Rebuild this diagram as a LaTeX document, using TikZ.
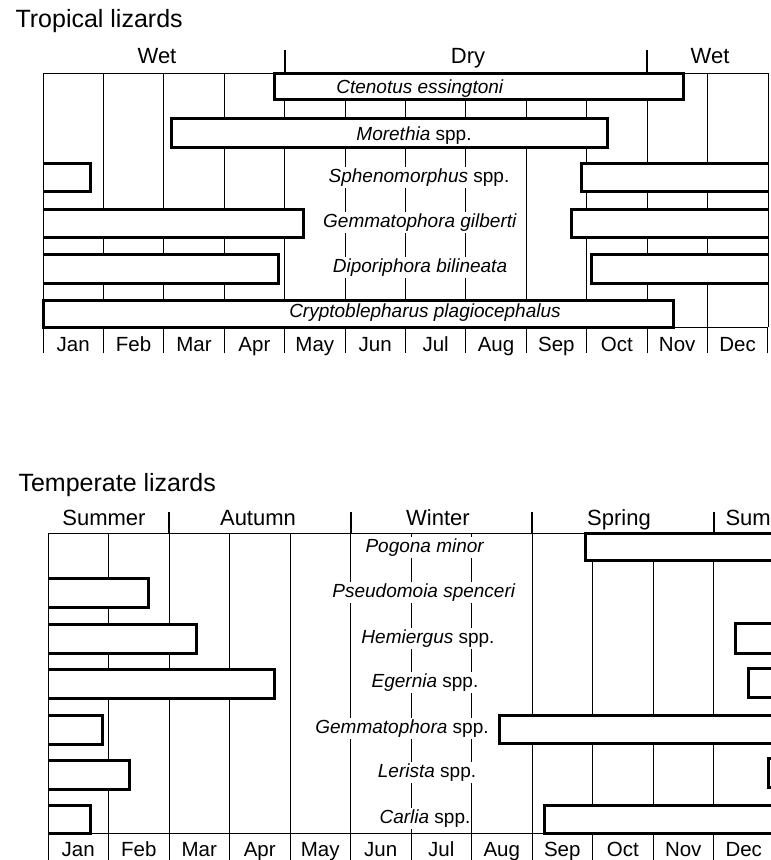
\documentclass[tikz,border=0pt]{standalone}
\usepackage{fontspec}
\setmainfont{Liberation Sans}
\tikzset{every picture/.style={line join=miter}}
\tikzset{grid lines/.style={line width=0.8pt}}
\tikzset{season tick/.style={line width=2pt}}
\tikzset{bar/.style={fill=white,line width=3pt}}
\tikzset{species label/.style={fill=white,inner sep=1pt,text height=14pt,text depth=4.5pt,anchor=base,font=\fontsize{19}{22}\selectfont}}
\tikzset{in bar/.style={fill=none}}
\tikzset{month label/.style={anchor=base,font=\fontsize{20.5}{24}\selectfont}}
\tikzset{season label/.style={anchor=base,font=\fontsize{22}{26}\selectfont}}
\tikzset{title label/.style={anchor=base west,font=\fontsize{25}{30}\selectfont}}
\newcommand{\topx}[1]{43+60.4*(#1)}
\newcommand{\botx}[1]{48+60.5*(#1)}

\begin{document}
\begin{tikzpicture}[x=1pt,y=-1pt]
  \useasboundingbox (0,0) rectangle (771,860);
  \clip (0,0) rectangle (771,860);

  % tropical lizards
  \node[title label] (tropical) at (12,27) {Tropical lizards};
  \foreach \i in {1,...,11}
    \draw[grid lines] ({\topx{\i}},73) -- ({\topx{\i}},327);
  \draw[season tick] ({\topx{4}},50) -- ({\topx{4}},73);
  \draw[season tick] ({\topx{10}},50) -- ({\topx{10}},73);
  \node[season label] (wet a) at (157,63) {Wet};
  \node[season label] (dry) at (468,63) {Dry};
  \node[season label] (wet b) at (710,63) {Wet};

  \filldraw[bar] (274,73) rectangle (683,99);
  \filldraw[bar] (171,118) rectangle (607,147);
  \filldraw[bar] (43,163) -| (90,191) -- (43,191);
  \filldraw[bar] (768,163) -| (581,191) -- (768,191);
  \filldraw[bar] (43,209) -| (303,237) -- (43,237);
  \filldraw[bar] (768,209) -| (571,237) -- (768,237);
  \filldraw[bar] (43,254) -| (278,283) -- (43,283);
  \filldraw[bar] (768,254) -| (591,283) -- (768,283);
  \filldraw[bar] (43,300) rectangle (673,327);

  \node[species label,in bar] (ctenotus) at (420,93) {\textit{Ctenotus essingtoni}};
  \node[species label,in bar] (morethia) at (414,140) {\textit{Morethia} spp.};
  \node[species label] (spheno) at (419,182) {\textit{Sphenomorphus} spp.};
  \node[species label] (gilberti) at (420,227) {\textit{Gemmatophora gilberti}};
  \node[species label] (diporiphora) at (420,272) {\textit{Diporiphora bilineata}};
  \node[species label,in bar] (crypto) at (425,317) {\textit{Cryptoblepharus plagiocephalus}};

  \draw[grid lines] (43,73) -- (768,73);
  \draw[grid lines] (43,327) -- (768,327);
  \draw[grid lines] (43,73) -- (43,327);
  \draw[grid lines] (768,73) -- (768,327);
  \foreach \i in {0,...,12}
    \draw[grid lines] ({\topx{\i}},327) -- ({\topx{\i}},353);
  \foreach \m [count=\i from 0] in {Jan,Feb,Mar,Apr,May,Jun,Jul,Aug,Sep,Oct,Nov,Dec}
    \node[month label] (t\m) at ({\topx{\i+0.5}},351) {\m};

  % temperate lizards
  \node[title label] (temperate) at (15,491) {Temperate lizards};
  \foreach \i in {1,...,11}
    \draw[grid lines] ({\botx{\i}},533) -- ({\botx{\i}},833);
  \foreach \i in {2,5,8,11}
    \draw[season tick] ({\botx{\i}},512) -- ({\botx{\i}},533);
  \node[season label] (summer a) at (104,525) {Summer};
  \node[season label] (autumn) at (258,525) {Autumn};
  \node[season label] (winter) at (438,525) {Winter};
  \node[season label] (spring) at (619,525) {Spring};
  \node[season label,anchor=base west] (summer b) at (722,525) {Sum};

  \filldraw[bar] (780,533) -| (585,560) -- (780,560);
  \filldraw[bar] (48,578) -| (148,607) -- (48,607);
  \filldraw[bar] (48,624) -| (196,653) -- (48,653);
  \filldraw[bar] (780,623) -| (735,653) -- (780,653);
  \filldraw[bar] (48,669) -| (274,698) -- (48,698);
  \filldraw[bar] (780,668) -| (748,697) -- (780,697);
  \filldraw[bar] (48,715) -| (102,744) -- (48,744);
  \filldraw[bar] (780,715) -| (499,743) -- (780,743);
  \filldraw[bar] (48,760) -| (129,789) -- (48,789);
  \filldraw[bar] (780,758) -| (768,787) -- (780,787);
  \filldraw[bar] (48,805) -| (90,833) -- (48,833);
  \filldraw[bar] (780,805) -| (544,833) -- (780,833);

  \node[species label] (pogona) at (425,552) {\textit{Pogona minor}};
  \node[species label] (pseudomoia) at (424,597) {\textit{Pseudomoia spenceri}};
  \node[species label] (hemiergus) at (428,643) {\textit{Hemiergus} spp.};
  \node[species label] (egernia) at (425,687) {\textit{Egernia} spp.};
  \node[species label] (gemmatophora) at (402,733) {\textit{Gemmatophora} spp.};
  \node[species label] (lerista) at (427,777) {\textit{Lerista} spp.};
  \node[species label] (carlia) at (425,823) {\textit{Carlia} spp.};

  \draw[grid lines] (48,533) -- (780,533);
  \draw[grid lines] (48,833) -- (780,833);
  \draw[grid lines] (48,533) -- (48,833);
  \foreach \i in {0,...,12}
    \draw[grid lines] ({\botx{\i}},833) -- ({\botx{\i}},860);
  \foreach \m [count=\i from 0] in {Jan,Feb,Mar,Apr,May,Jun,Jul,Aug,Sep,Oct,Nov,Dec}
    \node[month label] (b\m) at ({\botx{\i+0.5}},856) {\m};
\end{tikzpicture}
\end{document}
